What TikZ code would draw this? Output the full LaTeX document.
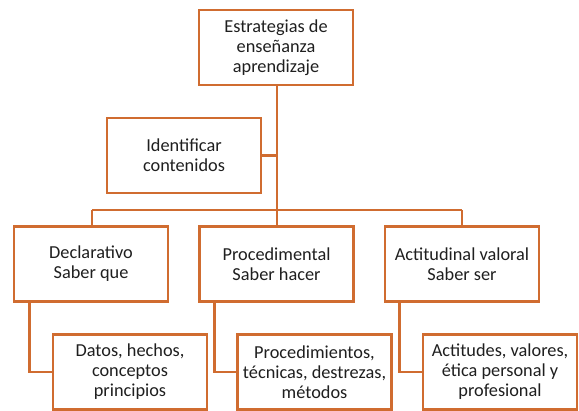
\documentclass[tikz,border=0pt]{standalone}
\usepackage{fontspec}
\setmainfont{Carlito}
\definecolor{boxorange}{RGB}{208,108,48}
\begin{document}
\begin{tikzpicture}[x=1bp,y=-1bp,
  box/.style={draw=boxorange,line width=2.8bp,fill=white,minimum width=154bp,minimum height=75bp,
    align=center,inner sep=1bp,font=\fontsize{18.3bp}{20bp}\selectfont,text=black!88},
  link/.style={draw=boxorange,line width=2.8bp}]
\useasboundingbox (0,0) rectangle (579,410);
\node[box] (top) at (276,47.5) {Estrategias de\\enseñanza\\aprendizaje};
\node[box] (ident) at (184,155.5) {Identificar\\contenidos};
\node[box] (decl) at (91,264) {Declarativo\\Saber que};
\node[box] (proc) at (276.5,264) {Procedimental\\Saber hacer};
\node[box] (acti) at (462,264) {Actitudinal valoral\\Saber ser};
\node[box] (datos) at (130,372) {Datos, hechos,\\conceptos\\principios};
\node[box] (procs) at (314.5,372) {Procedimientos,\\técnicas, destrezas,\\métodos};
\node[box] (actis) at (500,372) {Actitudes, valores,\\ética personal y\\profesional};
\coordinate (bar) at (277,210);
\coordinate (barL) at (92,210);
\coordinate (barR) at (462,210);
\draw[link] (top.south -| bar) -- (bar);
\draw[link] (ident.east) -- (ident.east -| bar);
\draw[link] (barL) -- (barR);
\draw[link] (barL) -- (decl.north -| barL);
\draw[link] (bar) -- (proc.north -| bar);
\draw[link] (barR) -- (acti.north -| barR);
\draw[link] ([xshift=17bp]decl.south west) |- (datos.west);
\draw[link] ([xshift=16bp]proc.south west) |- (procs.west);
\draw[link] ([xshift=16bp]acti.south west) |- (actis.west);
\end{tikzpicture}
\end{document}
